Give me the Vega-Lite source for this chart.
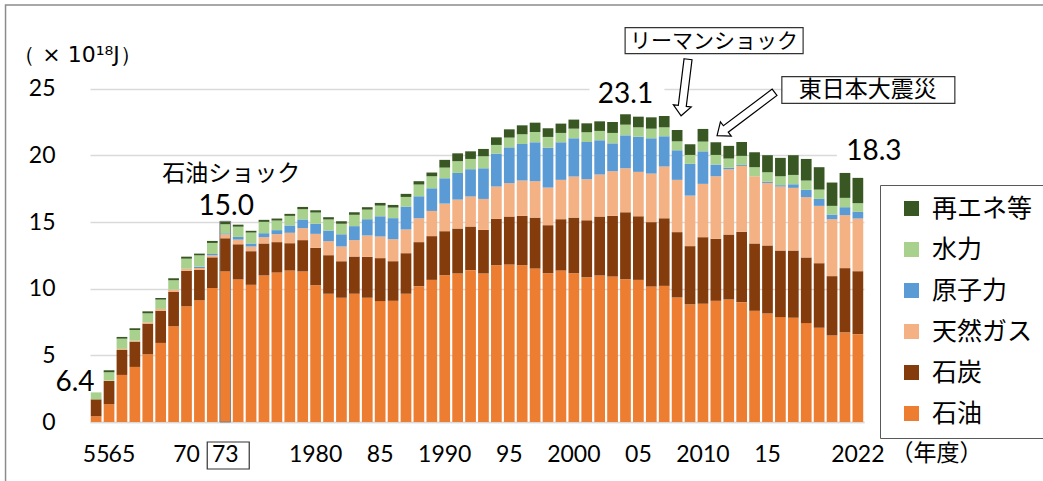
{
  "$schema": "https://vega.github.io/schema/vega-lite/v6.json",
  "autosize": "none",
  "width": 774,
  "height": 400,
  "padding": {"left": 90, "top": 22, "right": 179, "bottom": 59},
  "background": "white",
  "config": {"view": {"stroke": null}, "font": "Lato"},
  "datasets": {
    "energy": [
      {"year":"1955","石油":0.43,"石炭":1.27,"天然ガス":0,"原子力":0,"水力":0.52,"再エネ等":0},
      {"year":"1960","石油":1.33,"石炭":1.75,"天然ガス":0.03,"原子力":0,"水力":0.62,"再エネ等":0.15},
      {"year":"1965","石油":3.53,"石炭":1.87,"天然ガス":0.08,"原子力":0,"水力":0.77,"再エネ等":0.13},
      {"year":"1966","石油":4.13,"石炭":1.9,"天然ガス":0.07,"原子力":0,"水力":0.8,"再エネ等":0.13},
      {"year":"1967","石油":5.08,"石炭":2.3,"天然ガス":0.1,"原子力":0,"水力":0.67,"再エネ等":0.15},
      {"year":"1968","石油":5.93,"石炭":2.42,"天然ガス":0.13,"原子力":0,"水力":0.7,"再エネ等":0.12},
      {"year":"1969","石油":7.18,"石炭":2.57,"天然ガス":0.18,"原子力":0,"水力":0.7,"再エネ等":0.15},
      {"year":"1970","石油":8.68,"石炭":2.65,"天然ガス":0.15,"原子力":0.02,"水力":0.75,"再エネ等":0.15},
      {"year":"1971","石油":9.13,"石炭":2.27,"天然ガス":0.15,"原子力":0.1,"水力":0.85,"再エネ等":0.13},
      {"year":"1972","石油":10.05,"石炭":2.3,"天然ガス":0.15,"原子力":0.1,"水力":0.83,"再エネ等":0.15},
      {"year":"1973","石油":11.3,"石炭":2.48,"天然ガス":0.3,"原子力":0.07,"水力":0.68,"再エネ等":0.22},
      {"year":"1974","石油":10.7,"石炭":2.63,"天然ガス":0.35,"原子力":0.2,"水力":0.77,"再エネ等":0.15},
      {"year":"1975","石油":10.29,"石炭":2.52,"天然ガス":0.35,"原子力":0.23,"水力":0.82,"再エネ等":0.13},
      {"year":"1976","石油":10.99,"石炭":2.4,"天然ガス":0.47,"原子力":0.3,"水力":0.85,"再エネ等":0.15},
      {"year":"1977","石油":11.21,"石炭":2.28,"天然ガス":0.6,"原子力":0.3,"水力":0.72,"再エネ等":0.15},
      {"year":"1978","石油":11.36,"石炭":2.05,"天然ガス":0.78,"原子力":0.55,"水力":0.72,"再エネ等":0.15},
      {"year":"1979","石油":11.29,"石炭":2.35,"天然ガス":0.9,"原子力":0.65,"水力":0.77,"再エネ等":0.17},
      {"year":"1980","石油":10.26,"石炭":2.8,"天然ガス":1.05,"原子力":0.75,"水力":0.85,"再エネ等":0.17},
      {"year":"1981","石油":9.62,"石炭":2.89,"天然ガス":1.05,"原子力":0.8,"水力":0.83,"再エネ等":0.17},
      {"year":"1982","石油":9.32,"石炭":2.74,"天然ガス":1.1,"原子力":0.93,"水力":0.77,"再エネ等":0.2},
      {"year":"1983","石油":9.62,"石炭":2.79,"天然ガス":1.23,"原子力":1.05,"水力":0.85,"再エネ等":0.19},
      {"year":"1984","石油":9.32,"石炭":3.07,"天然ガス":1.6,"原子力":1.22,"水力":0.72,"再エネ等":0.18},
      {"year":"1985","石油":9.07,"石炭":3.22,"天然ガス":1.62,"原子力":1.52,"水力":0.8,"再エネ等":0.2},
      {"year":"1986","石油":9.09,"石炭":2.97,"天然ガス":1.65,"原子力":1.58,"水力":0.79,"再エネ等":0.2},
      {"year":"1987","石油":9.62,"石炭":3.04,"天然ガス":1.78,"原子力":1.72,"水力":0.72,"再エネ等":0.23},
      {"year":"1988","石油":10.19,"石炭":3.3,"天然ガス":1.79,"原子力":1.65,"水力":0.88,"再エネ等":0.25},
      {"year":"1989","石油":10.66,"石炭":3.28,"天然ガス":1.89,"原子力":1.7,"水力":0.9,"再エネ等":0.28},
      {"year":"1990","石油":11.01,"石炭":3.3,"天然ガス":2.07,"原子力":1.9,"水力":0.8,"再エネ等":0.58},
      {"year":"1991","石油":11.14,"石炭":3.37,"天然ガス":2.17,"原子力":2.0,"水力":0.88,"再エネ等":0.59},
      {"year":"1992","石油":11.39,"石炭":3.27,"天然ガス":2.25,"原子力":2.05,"水力":0.77,"再エネ等":0.57},
      {"year":"1993","石油":11.14,"石炭":3.27,"天然ガス":2.32,"原子力":2.3,"水力":0.9,"再エネ等":0.55},
      {"year":"1994","石油":11.76,"石炭":3.47,"天然ガス":2.43,"原子力":2.47,"水力":0.65,"再エネ等":0.57},
      {"year":"1995","石油":11.81,"石炭":3.6,"天然ガス":2.5,"原子力":2.69,"水力":0.73,"再エネ等":0.62},
      {"year":"1996","石油":11.76,"石炭":3.7,"天然ガス":2.65,"原子力":2.74,"水力":0.73,"再エネ等":0.67},
      {"year":"1997","石油":11.51,"石炭":3.82,"天然ガス":2.73,"原子力":2.92,"水力":0.77,"再エネ等":0.7},
      {"year":"1998","石油":11.16,"石炭":3.6,"天然ガス":2.82,"原子力":3.0,"水力":0.8,"再エネ等":0.65},
      {"year":"1999","石油":11.36,"石炭":3.85,"天然ガス":2.95,"原子力":2.82,"水力":0.7,"再エネ等":0.7},
      {"year":"2000","石油":11.16,"石炭":4.17,"天然ガス":3.08,"原子力":2.87,"水力":0.72,"再エネ等":0.68},
      {"year":"2001","石油":10.86,"石炭":4.27,"天然ガス":3.08,"原子力":2.79,"水力":0.73,"再エネ等":0.67},
      {"year":"2002","石油":10.99,"石炭":4.42,"天然ガス":3.15,"原子力":2.57,"水力":0.7,"再エネ等":0.72},
      {"year":"2003","石油":10.91,"石炭":4.55,"天然ガス":3.35,"原子力":2.09,"水力":0.78,"再エネ等":0.82},
      {"year":"2004","石油":10.71,"石炭":5.02,"天然ガス":3.3,"原子力":2.47,"水力":0.8,"再エネ等":0.78},
      {"year":"2005","石油":10.66,"石炭":4.77,"天然ガス":3.33,"原子力":2.64,"水力":0.7,"再エネ等":0.8},
      {"year":"2006","石油":10.16,"石炭":4.83,"天然ガス":3.64,"原子力":2.65,"水力":0.72,"再エネ等":0.85},
      {"year":"2007","石油":10.21,"石炭":5.07,"天然ガス":3.88,"原子力":2.27,"水力":0.67,"再エネ等":0.85},
      {"year":"2008","石油":9.34,"石炭":4.9,"天然ガス":3.92,"原子力":2.22,"水力":0.67,"再エネ等":0.85},
      {"year":"2009","石油":8.82,"石炭":4.37,"天然ガス":3.79,"原子力":2.38,"水力":0.67,"再エネ等":0.8},
      {"year":"2010","石油":8.87,"石炭":4.99,"天然ガス":4.0,"原子力":2.44,"水力":0.73,"再エネ等":0.95},
      {"year":"2011","石油":9.09,"石炭":4.65,"天然ガス":4.69,"原子力":0.88,"水力":0.72,"再エネ等":0.95},
      {"year":"2012","石油":9.19,"石炭":4.87,"天然ガス":4.9,"原子力":0.12,"水力":0.68,"再エネ等":0.95},
      {"year":"2013","石油":8.99,"石炭":5.27,"天然ガス":4.95,"原子力":0.07,"水力":0.68,"再エネ等":1.04},
      {"year":"2014","石油":8.34,"石炭":5.05,"天然ガス":5.04,"原子力":0,"水力":0.68,"再エネ等":1.12},
      {"year":"2015","石油":8.14,"石炭":5.1,"天然ガス":4.69,"原子力":0.1,"水力":0.7,"再エネ等":1.28},
      {"year":"2016","石油":7.87,"石炭":4.99,"天然ガス":4.8,"原子力":0.1,"水力":0.67,"再エネ等":1.38},
      {"year":"2017","石油":7.82,"石炭":5.04,"天然ガス":4.7,"原子力":0.27,"水力":0.7,"再エネ等":1.48},
      {"year":"2018","石油":7.42,"石炭":4.92,"天然ガス":4.52,"原子力":0.55,"水力":0.7,"再エネ等":1.62},
      {"year":"2019","石油":7.07,"石炭":4.84,"天然ガス":4.3,"原子力":0.52,"水力":0.7,"再エネ等":1.68},
      {"year":"2020","石油":6.49,"石炭":4.45,"天然ガス":4.27,"原子力":0.35,"水力":0.65,"再エネ等":1.75},
      {"year":"2021","石油":6.72,"石炭":4.82,"天然ガス":3.97,"原子力":0.6,"水力":0.7,"再エネ等":1.87},
      {"year":"2022","石油":6.59,"石炭":4.72,"天然ガス":3.95,"原子力":0.5,"水力":0.65,"再エネ等":1.9}
    ]
  },
  "layer": [
    {
      "data": {"name": "energy"},
      "transform": [
        {"fold": ["石油","石炭","天然ガス","原子力","水力","再エネ等"], "as": ["source","value"]},
        {"window": [{"op": "row_number", "as": "k"}], "groupby": ["year"]}
      ],
      "mark": {"type": "bar"},
      "encoding": {
        "x": {
          "field": "year", "type": "ordinal", "sort": null,
          "scale": {
            "domain": ["1955","1960","1965","1966","1967","1968","1969","1970","1971","1972","1973","1974","1975","1976","1977","1978","1979","1980","1981","1982","1983","1984","1985","1986","1987","1988","1989","1990","1991","1992","1993","1994","1995","1996","1997","1998","1999","2000","2001","2002","2003","2004","2005","2006","2007","2008","2009","2010","2011","2012","2013","2014","2015","2016","2017","2018","2019","2020","2021","2022"],
            "paddingInner": 0.17, "paddingOuter": 0.06
          },
          "axis": {
            "values": ["1955","1965","1970","1973","1980","1985","1990","1995","2000","2005","2010","2015","2022"],
            "labelExpr": "indexof(['1980','1990','2000','2010','2022'], datum.value) >= 0 ? datum.value : substring(datum.value, 2)",
            "labelAngle": 0, "labelOverlap": false, "labelBound": false, "ticks": false,
            "domain": true, "domainColor": "#d9d9d9", "domainWidth": 1.3, "grid": false,
            "labelPadding": 21, "labelFont": "Lato", "labelFontSize": 23, "labelColor": "#000000",
            "title": "（年度）", "titleX": 846, "titleY": 31, "titleAlign": "center", "titleBaseline": "middle",
            "titleFont": "Noto Sans CJK JP", "titleFontSize": 23, "titleFontWeight": "normal", "titleColor": "#000000"
          }
        },
        "y": {
          "field": "value", "type": "quantitative", "stack": "zero",
          "scale": {"domain": [0, 30], "nice": false},
          "axis": {
            "values": [0, 5, 10, 15, 20, 25], "grid": true, "gridColor": "#d9d9d9", "gridWidth": 1.3,
            "domain": false, "ticks": false, "labelPadding": 35, "labelFont": "Lato", "labelFontSize": 23, "labelColor": "#000000",
            "title": "（ × 10¹⁸J）", "titleAngle": 0, "titleX": -13, "titleY": 32, "titleAlign": "center", "titleBaseline": "middle",
            "titleFont": "DejaVu Sans", "titleFontSize": 22, "titleFontWeight": "normal", "titleColor": "#000000"
          }
        },
        "color": {
          "field": "source", "type": "nominal",
          "scale": {
            "domain": ["再エネ等","水力","原子力","天然ガス","石炭","石油"],
            "range": ["#385723","#a9d18e","#5b9bd5","#f4b183","#843c0c","#ed7d31"]
          },
          "legend": {
            "orient": "none", "legendX": 790, "legendY": 163, "title": null,
            "symbolType": "square", "symbolSize": 225, "symbolStrokeWidth": 0,
            "labelFont": "Noto Sans CJK JP", "labelFontSize": 25, "labelColor": "#000000",
            "strokeColor": "#595959", "fillColor": "#ffffff", "padding": 11, "symbolOffset": 8,
            "labelOffset": 8, "rowPadding": 15
          }
        },
        "order": {"field": "k", "type": "quantitative", "sort": "ascending"}
      }
    },
    {
      "data": {"values": [{"year": "1955", "v": 0}]},
      "mark": {"type": "point", "shape": "M-90.6,476 L-90.6,-417 L947,-417", "size": 4, "filled": false, "stroke": "#8c8c8c", "strokeWidth": 1.5, "opacity": 1},
      "encoding": {"x": {"field": "year", "type": "ordinal"}, "y": {"field": "v", "type": "quantitative"}}
    },
    {
      "data": {"values": [{"year": "1973", "v": 15.05}]},
      "mark": {"type": "bar", "fillOpacity": 0, "stroke": "#7f7f7f", "strokeWidth": 1},
      "encoding": {"x": {"field": "year", "type": "ordinal"}, "y": {"field": "v", "type": "quantitative"}}
    },
    {
      "data": {"values": [{"year": "2004", "v": 23.08}]},
      "mark": {"type": "point", "shape": "M-36,-34 L39,-34 L39,-7 L-36,-7 Z", "size": 4, "filled": true, "fill": "#ffffff", "strokeWidth": 0, "opacity": 1},
      "encoding": {"x": {"field": "year", "type": "ordinal"}, "y": {"field": "v", "type": "quantitative"}}
    },
    {
      "data": {"values": [{"year": "2022", "v": 18.31}]},
      "mark": {"type": "point", "shape": "M-21,-38 L50,-38 L50,-14 L-21,-14 Z", "size": 4, "filled": true, "fill": "#ffffff", "strokeWidth": 0, "opacity": 1},
      "encoding": {"x": {"field": "year", "type": "ordinal"}, "y": {"field": "v", "type": "quantitative"}}
    },
    {
      "data": {"values": [{"year": "1965", "v": 6.38, "label": "6.4"}]},
      "mark": {"type": "text", "font": "Lato", "fontSize": 28, "align": "center", "baseline": "middle", "dx": -47, "dy": 46, "color": "#000000"},
      "encoding": {"x": {"field": "year", "type": "ordinal"}, "y": {"field": "v", "type": "quantitative"}, "text": {"field": "label"}}
    },
    {
      "data": {"values": [{"year": "1973", "v": 15.05, "label": "15.0"}]},
      "mark": {"type": "text", "font": "Lato", "fontSize": 28, "align": "center", "baseline": "middle", "dx": 1, "dy": -14, "color": "#000000"},
      "encoding": {"x": {"field": "year", "type": "ordinal"}, "y": {"field": "v", "type": "quantitative"}, "text": {"field": "label"}}
    },
    {
      "data": {"values": [{"year": "2004", "v": 23.08, "label": "23.1"}]},
      "mark": {"type": "text", "font": "Lato", "fontSize": 28, "align": "center", "baseline": "middle", "dx": 0, "dy": -19, "color": "#000000"},
      "encoding": {"x": {"field": "year", "type": "ordinal"}, "y": {"field": "v", "type": "quantitative"}, "text": {"field": "label"}}
    },
    {
      "data": {"values": [{"year": "2022", "v": 18.31, "label": "18.3"}]},
      "mark": {"type": "text", "font": "Lato", "fontSize": 28, "align": "center", "baseline": "middle", "dx": 16, "dy": -26, "color": "#000000"},
      "encoding": {"x": {"field": "year", "type": "ordinal"}, "y": {"field": "v", "type": "quantitative"}, "text": {"field": "label"}}
    },
    {
      "data": {"values": [{"year": "1973", "v": 15.05, "label": "石油ショック"}]},
      "mark": {"type": "text", "font": "Noto Sans CJK JP", "fontSize": 23, "align": "center", "baseline": "middle", "dx": 6, "dy": -47, "color": "#000000"},
      "encoding": {"x": {"field": "year", "type": "ordinal"}, "y": {"field": "v", "type": "quantitative"}, "text": {"field": "label"}}
    },
    {
      "data": {"values": [{"year": "2008", "v": 23.0}]},
      "mark": {"type": "point", "shape": "M0,-57 L8,-57 L8,-10 L13,-10 L4,0 L-5,-10 L0,-10 Z", "size": 4, "angle": 7, "filled": true, "fill": "#ffffff", "stroke": "#000000", "strokeWidth": 1.2, "opacity": 1},
      "encoding": {"x": {"field": "year", "type": "ordinal"}, "y": {"field": "v", "type": "quantitative"}}
    },
    {
      "data": {"values": [{"year": "2011", "v": 21.6}]},
      "mark": {"type": "point", "shape": "M-2,-72 L6,-72 L6,-11 L11,-11 L2,0 L-7,-11 L-2,-11 Z", "size": 4, "angle": 53, "filled": true, "fill": "#ffffff", "stroke": "#000000", "strokeWidth": 1.2, "opacity": 1},
      "encoding": {"x": {"field": "year", "type": "ordinal"}, "y": {"field": "v", "type": "quantitative"}}
    },
    {
      "data": {"values": [{"year": "2008", "v": 28.6}]},
      "mark": {"type": "point", "shape": "M-52,-13 L126,-13 L126,13 L-52,13 Z", "size": 4, "filled": true, "fill": "#ffffff", "stroke": "#333333", "strokeWidth": 1.2, "opacity": 1},
      "encoding": {"x": {"field": "year", "type": "ordinal"}, "y": {"field": "v", "type": "quantitative"}}
    },
    {
      "data": {"values": [{"year": "2008", "v": 28.6, "label": "リーマンショック"}]},
      "mark": {"type": "text", "font": "Noto Sans CJK JP", "fontSize": 21, "align": "center", "baseline": "middle", "dx": 37, "dy": 1, "color": "#000000"},
      "encoding": {"x": {"field": "year", "type": "ordinal"}, "y": {"field": "v", "type": "quantitative"}, "text": {"field": "label"}}
    },
    {
      "data": {"values": [{"year": "2011", "v": 24.9}]},
      "mark": {"type": "point", "shape": "M66,-13.3 L239,-13.3 L239,13.3 L66,13.3 Z", "size": 4, "filled": true, "fill": "#ffffff", "stroke": "#333333", "strokeWidth": 1.2, "opacity": 1},
      "encoding": {"x": {"field": "year", "type": "ordinal"}, "y": {"field": "v", "type": "quantitative"}}
    },
    {
      "data": {"values": [{"year": "2011", "v": 24.9, "label": "東日本大震災"}]},
      "mark": {"type": "text", "font": "Noto Sans CJK JP", "fontSize": 23, "align": "center", "baseline": "middle", "dx": 152, "dy": 0, "color": "#000000"},
      "encoding": {"x": {"field": "year", "type": "ordinal"}, "y": {"field": "v", "type": "quantitative"}, "text": {"field": "label"}}
    },
    {
      "data": {"values": [{"year": "1973", "v": 0}]},
      "mark": {"type": "point", "shape": "M-18,20 L24,20 L24,47 L-18,47 Z", "size": 4, "filled": false, "stroke": "#333333", "strokeWidth": 1.2, "opacity": 1},
      "encoding": {"x": {"field": "year", "type": "ordinal"}, "y": {"field": "v", "type": "quantitative"}}
    }
  ]
}
